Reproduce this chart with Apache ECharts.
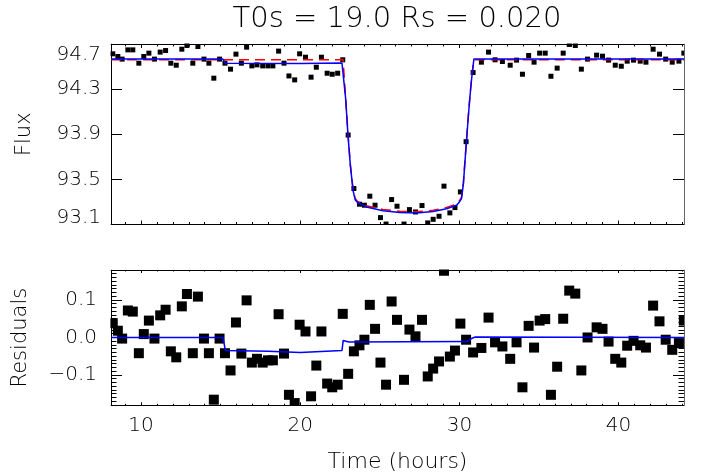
<!DOCTYPE html>
<html><head><meta charset="utf-8">
<script src="https://cdn.jsdelivr.net/npm/echarts@6/dist/echarts.min.js"></script>
<style>html,body{margin:0;padding:0;background:#fff}#c{width:701px;height:475px}</style>
</head><body><div id="c"></div>
<script>
const time = [8.22,8.54,8.81,9.17,9.48,9.86,10.17,10.49,10.84,11.20,11.54,11.87,12.21,12.56,12.88,13.25,13.57,13.95,14.26,14.57,14.93,15.27,15.62,15.96,16.30,16.63,16.96,17.28,17.64,17.97,18.28,18.64,18.98,19.29,19.65,19.96,
20.33,20.68,21.01,21.33,21.69,22.01,22.35,22.67,23.01,23.37,23.72,24.03,24.37,24.70,25.04,25.39,25.74,26.08,26.52,26.86,27.24,27.65,28.01,28.35,28.72,29.03,29.40,29.72,30.06,30.42,30.86,31.38,31.83,32.24,
32.70,33.19,33.59,33.96,34.35,34.69,35.04,35.39,35.75,36.14,36.52,36.90,37.28,37.66,38.05,38.62,38.99,39.37,39.79,40.17,40.54,40.94,41.36,41.72,42.17,42.57,42.96,43.37,43.79,44.10];
const flux = [94.613,94.589,94.566,94.648,94.648,94.530,94.589,94.619,94.566,94.628,94.642,94.530,94.512,94.654,94.687,94.530,94.678,94.566,94.530,94.397,94.566,94.530,94.477,94.610,94.530,94.672,94.506,94.515,94.506,94.506,94.506,94.637,94.530,94.417,94.382,94.613,
94.583,94.406,94.494,94.583,94.441,94.432,94.441,94.560,93.893,93.419,93.280,93.271,93.351,93.271,93.161,93.104,93.321,93.262,93.104,93.232,93.211,93.268,93.114,93.146,93.173,93.440,93.203,93.250,93.389,93.834,94.447,94.539,94.628,94.560,
94.545,94.512,94.557,94.432,94.598,94.539,94.619,94.619,94.414,94.486,94.619,94.696,94.687,94.477,94.566,94.601,94.592,94.557,94.512,94.503,94.548,94.557,94.548,94.539,94.654,94.610,94.566,94.539,94.548,94.619];
const resid = [0.038,0.018,-0.003,0.072,0.069,-0.042,0.009,0.045,-0.003,0.059,0.074,-0.037,-0.053,0.083,0.116,-0.042,0.109,-0.003,-0.042,-0.166,-0.003,-0.042,-0.088,0.040,-0.043,0.099,-0.067,-0.057,-0.067,-0.061,-0.061,0.062,-0.043,-0.153,-0.175,0.034,
0.016,-0.157,-0.075,0.016,-0.123,-0.133,-0.126,0.063,-0.097,-0.037,-0.021,-0.006,0.087,0.023,-0.067,-0.126,0.096,0.047,-0.113,0.021,0.003,0.047,-0.104,-0.083,-0.064,0.178,-0.051,-0.035,0.037,-0.006,-0.040,-0.028,0.053,-0.013,
-0.024,-0.057,-0.013,-0.133,0.031,-0.027,0.045,0.049,-0.153,-0.078,0.050,0.125,0.117,-0.088,0.000,0.027,0.023,-0.011,-0.057,-0.067,-0.022,-0.009,-0.021,-0.027,0.085,0.043,-0.006,-0.033,-0.015,0.045];

// ---- fitted curves ----
const blueTime = [8.11,15.14,15.30,20.0,22.62,22.69,22.85,23.00,23.15,23.32,23.45,23.60,24.16,25.20,26.25,27.30,28.35,29.19,29.82,30.00,30.13,30.25,30.34,30.45,30.55,30.66,30.78,30.91,44.11];
const blueFlux = [94.566,94.566,94.530,94.528,94.532,94.530,94.220,93.890,93.620,93.400,93.320,93.295,93.256,93.222,93.206,93.202,93.215,93.240,93.270,93.300,93.330,93.460,93.640,93.850,94.040,94.230,94.410,94.566,94.566];
const redTime = [8.11,22.69,22.85,23.00,23.15,23.32,23.45,23.60,24.16,25.20,26.25,27.30,28.35,29.19,29.82,30.00,30.13,30.25,30.34,30.45,30.55,30.66,30.78,30.91,44.11];
const redFlux = [94.560,94.560,94.230,93.900,93.630,93.410,93.330,93.305,93.267,93.233,93.217,93.213,93.226,93.251,93.281,93.310,93.340,93.470,93.650,93.860,94.050,94.240,94.420,94.560,94.560];
const sysTime = [8.11,15.14,15.30,18.0,20.0,22.62,22.70,23.05,30.45,30.60,30.80,30.97,44.11];
const sysResid = [0.000,0.000,-0.035,-0.037,-0.040,-0.035,-0.008,-0.012,-0.011,-0.008,-0.002,0.001,0.000];

// ---- tick labels ----
const timeTicks = [10,20,30,40];
const fluxTicks = [93.1,93.5,93.9,94.3,94.7];
const residTicks = [-0.1,0,0.1];

const FONT = 'DejaVu Sans';
const FW = 200;
const zip = (a,b) => a.map((v,i)=>[v,b[i]]);
const X_MIN = 8.11, X_MAX = 44.11;
const G1 = {left:111, top:44, width:573, height:180.5};
const G2 = {left:111, top:270, width:573, height:135.3};

function xAx(grid, pos, showLabel, majLen, minLen) {
  return {
    type:'value', gridIndex:grid, position:pos, min:X_MIN, max:X_MAX, splitNumber:4,
    axisLine:{show:true, onZero:false, lineStyle:{color:'#000', width:1}},
    axisTick:{show:true, inside:true, length:majLen, customValues:timeTicks, lineStyle:{color:'#000', width:1}},
    minorTick:{show:true, splitNumber:10, length:minLen, lineStyle:{color:'#000', width:1}},
    splitLine:{show:false}, minorSplitLine:{show:false},
    axisLabel:{show:showLabel, customValues:timeTicks, margin:10, fontSize:20, fontFamily:FONT, fontWeight:FW, color:'#000'},
    name: showLabel ? 'Time (hours)' : '', nameLocation:'middle', nameGap:46,
    nameTextStyle:{fontSize:22, fontFamily:FONT, fontWeight:FW, color:'#000'}
  };
}

const option = {
  animation:false,
  backgroundColor:'#fff',
  title:{text:'T0s = 19.0 Rs = 0.020', left:397, top:5, textAlign:'center', padding:0,
    textStyle:{fontFamily:FONT, fontSize:29, fontWeight:FW, color:'#000'}},
  grid:[Object.assign({outerBoundsMode:'none', containLabel:false}, G1), Object.assign({outerBoundsMode:'none', containLabel:false}, G2)],
  xAxis:[ xAx(0,'bottom',false,4,2.5), xAx(0,'top',false,4,2.5), xAx(1,'bottom',true,3,1.5), xAx(1,'top',false,3,1.5) ],
  yAxis:[
    {type:'value', gridIndex:0, position:'left', min:93.1, max:94.7,
     axisLine:{show:true, onZero:false, lineStyle:{color:'#000'}},
     axisTick:{show:true, inside:true, length:11, customValues:fluxTicks, lineStyle:{color:'#000'}},
     splitLine:{show:false},
     axisLabel:{customValues:fluxTicks, margin:10, fontSize:20, fontFamily:FONT, fontWeight:FW, color:'#000',
       formatter:function(v){ const s=v.toFixed(1); if(s==='94.7') return '{t|'+s+'}'; if(s==='93.1') return '{b|'+s+'}'; return s; },
       rich:{t:{padding:[21,0,0,0], fontSize:20, fontFamily:FONT, fontWeight:FW, color:'#000'},
             b:{padding:[0,0,13,0], fontSize:20, fontFamily:FONT, fontWeight:FW, color:'#000'}}},
     name:'Flux', nameLocation:'middle', nameRotate:90, nameGap:76,
     nameTextStyle:{fontSize:21, fontFamily:FONT, fontWeight:FW, color:'#000'}},
    {type:'value', gridIndex:0, position:'right', min:93.1, max:94.7,
     axisLine:{show:true, onZero:false, lineStyle:{color:'#000'}},
     axisTick:{show:true, inside:true, length:11, customValues:fluxTicks, lineStyle:{color:'#000'}},
     splitLine:{show:false}, axisLabel:{show:false}},
    {type:'value', gridIndex:1, position:'left', min:-0.181, max:0.18,
     axisLine:{show:true, onZero:false, lineStyle:{color:'#000'}},
     axisTick:{show:true, inside:true, length:11, customValues:residTicks, lineStyle:{color:'#000'}},
     minorTick:{show:true, splitNumber:10, length:5.5, lineStyle:{color:'#000'}},
     splitLine:{show:false}, minorSplitLine:{show:false},
     axisLabel:{customValues:residTicks, margin:14, fontSize:20, fontFamily:FONT, fontWeight:FW, color:'#000',
       formatter:function(v){ const s=Math.abs(v).toFixed(1); return v < -1e-9 ? '\u2212'+s : s; }},
     name:'Residuals', nameLocation:'middle', nameRotate:90, nameGap:80,
     nameTextStyle:{fontSize:21, fontFamily:FONT, fontWeight:FW, color:'#000'}},
    {type:'value', gridIndex:1, position:'right', min:-0.181, max:0.18,
     axisLine:{show:true, onZero:false, lineStyle:{color:'#000'}},
     axisTick:{show:true, inside:true, length:11, customValues:residTicks, lineStyle:{color:'#000'}},
     minorTick:{show:true, splitNumber:10, length:5.5, lineStyle:{color:'#000'}},
     splitLine:{show:false}, minorSplitLine:{show:false}, axisLabel:{show:false}}
  ],
  series:[
    {type:'scatter', xAxisIndex:0, yAxisIndex:0, symbol:'rect', symbolSize:5, itemStyle:{color:'#000', opacity:1}, data:zip(time,flux), z:2},
    {type:'line', xAxisIndex:0, yAxisIndex:0, showSymbol:false, symbol:'none', lineStyle:{color:'#ff0000', width:1.5, type:[10,6]}, data:zip(redTime,redFlux), z:3},
    {type:'line', xAxisIndex:0, yAxisIndex:0, showSymbol:false, symbol:'none', lineStyle:{color:'#0000ff', width:1.5}, data:zip(blueTime,blueFlux), z:4},
    {type:'scatter', xAxisIndex:2, yAxisIndex:2, symbol:'rect', symbolSize:10, itemStyle:{color:'#000', opacity:1}, data:zip(time,resid), z:2},
    {type:'line', xAxisIndex:2, yAxisIndex:2, showSymbol:false, symbol:'none', lineStyle:{color:'#0000ff', width:1.5}, data:zip(sysTime,sysResid), z:4}
  ],
  graphic:[
    // white masks just outside the plot boxes so edge symbols look clipped
    {type:'rect', z:100, silent:true, shape:{x:103, y:34, width:597, height:9.4}, style:{fill:'#fff'}},
    {type:'rect', z:100, silent:true, shape:{x:103, y:225.1, width:597, height:10}, style:{fill:'#fff'}},
    {type:'rect', z:100, silent:true, shape:{x:103, y:34, width:7.4, height:202}, style:{fill:'#fff'}},
    {type:'rect', z:100, silent:true, shape:{x:684.6, y:34, width:15, height:202}, style:{fill:'#fff'}},
    {type:'rect', z:100, silent:true, shape:{x:103, y:260, width:597, height:9.4}, style:{fill:'#fff'}},
    {type:'rect', z:100, silent:true, shape:{x:103, y:405.9, width:597, height:9}, style:{fill:'#fff'}},
    {type:'rect', z:100, silent:true, shape:{x:103, y:260, width:7.4, height:155}, style:{fill:'#fff'}},
    {type:'rect', z:100, silent:true, shape:{x:684.6, y:260, width:15, height:155}, style:{fill:'#fff'}}
  ]
};
const chart = echarts.init(document.getElementById('c'), null, {renderer:'canvas'});
chart.setOption(option);
</script></body></html>
